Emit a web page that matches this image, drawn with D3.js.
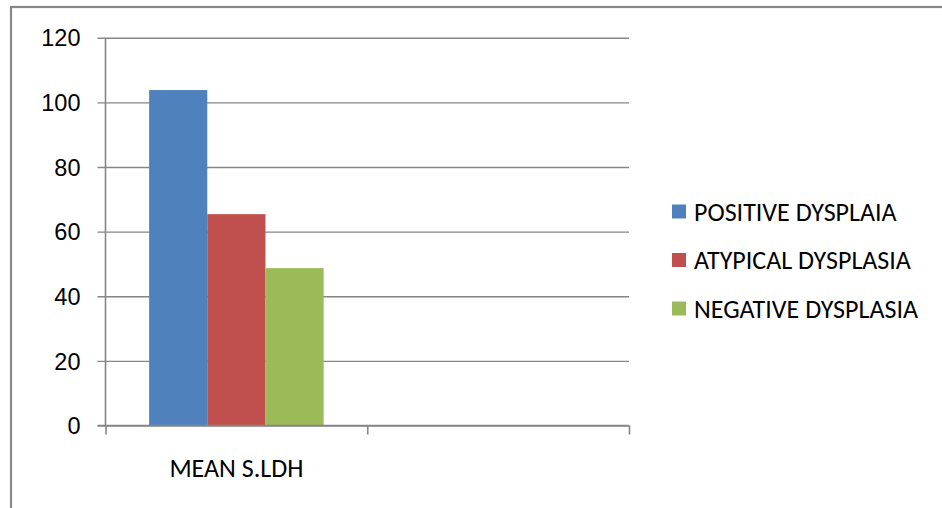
<!DOCTYPE html>
<html>
<head>
<meta charset="utf-8">
<script src="https://cdn.jsdelivr.net/npm/d3@7"></script>
<style>
  body { margin: 0; background: #fff; }
  svg { display: block; font-family: Carlito, Calibri, Lato, "Open Sans", sans-serif; }
</style>
</head>
<body>
<svg></svg>
<script>
const width = 942;
const height = 508;

// DATA
const categories = ['MEAN S.LDH', ''];
const seriesNames = ['POSITIVE DYSPLAIA', 'ATYPICAL DYSPLASIA', 'NEGATIVE DYSPLASIA'];
const seriesColors = ['#4f81bd', '#c0504d', '#9bbb59'];
const seriesValues = [
  [103.8, null],
  [65.4, null],
  [48.7, null]
];
const yTicks = [0, 20, 40, 60, 80, 100, 120];

const plot = { left: 105.5, right: 629, top: 37.7, bottom: 425.5 };
const gridColor = '#868686';

const svg = d3.select('svg')
    .attr('width', width)
    .attr('height', height);

// outer chart border (runs off the right and bottom of the picture)
svg.append('rect')
    .attr('x', 11)
    .attr('y', 7)
    .attr('width', width + 20)
    .attr('height', height + 20)
    .attr('fill', 'none')
    .attr('stroke', '#888')
    .attr('stroke-width', 2.2);

// SCALES
const xScale = d3.scaleBand()
    .domain(d3.range(categories.length))
    .range([plot.left, plot.right]);
const xInner = d3.scaleBand()
    .domain(d3.range(seriesNames.length))
    .range([0, xScale.bandwidth()])
    .paddingOuter(0.75)
    .paddingInner(0);
const yScale = d3.scaleLinear()
    .domain([0, 120])
    .range([plot.bottom, plot.top]);

// GRID + Y AXIS
const yAxis = d3.axisLeft(yScale)
    .tickValues(yTicks)
    .tickSize(-(plot.right - plot.left))
    .tickSizeOuter(0)
    .tickPadding(25);

const yg = svg.append('g')
    .attr('transform', `translate(${plot.left}, 0)`)
    .call(yAxis);
yg.select('.domain').remove();
yg.selectAll('.tick line')
    .attr('x1', -8)
    .attr('stroke', gridColor)
    .attr('stroke-width', 1.4);
yg.selectAll('.tick text')
    .attr('fill', '#000')
    .style('font-size', '23.5px')
    .attr('dy', '0.35em');

svg.append('line')
    .attr('x1', plot.left).attr('x2', plot.left)
    .attr('y1', plot.top).attr('y2', plot.bottom)
    .attr('stroke', gridColor)
    .attr('stroke-width', 1.6);

// BARS
const groups = svg.selectAll('g.series')
    .data(seriesValues)
    .enter()
    .append('g')
        .attr('class', 'series')
        .attr('fill', (d, i) => seriesColors[i]);

groups.selectAll('rect')
    .data((d, i) => d.map((v, c) => ({ v, c, s: i })).filter(d => d.v !== null))
    .enter()
    .append('rect')
        .attr('x', d => xScale(d.c) + xInner(d.s))
        .attr('width', xInner.bandwidth())
        .attr('y', d => yScale(d.v))
        .attr('height', d => yScale(0) - yScale(d.v));

// X AXIS
const xAxis = d3.axisBottom(d3.scaleLinear().domain([0, categories.length]).range([plot.left, plot.right]))
    .tickValues(d3.range(categories.length + 1))
    .tickSize(9)
    .tickSizeOuter(0)
    .tickFormat('');

const xg = svg.append('g')
    .attr('transform', `translate(0, ${plot.bottom})`)
    .call(xAxis);
xg.select('.domain')
    .attr('d', `M${plot.left - 8},0H${plot.right}`)
    .attr('stroke', gridColor)
    .attr('stroke-width', 1.6);
xg.selectAll('.tick line')
    .attr('stroke', gridColor)
    .attr('stroke-width', 1.6);

svg.selectAll('text.cat')
    .data(categories)
    .enter()
    .append('text')
        .attr('class', 'cat')
        .attr('x', (d, i) => xScale(i) + xScale.bandwidth() / 2)
        .attr('y', 477)
        .attr('text-anchor', 'middle')
        .style('font-size', '26px')
        .text(d => d);

// LEGEND
const legend = svg.selectAll('g.legend')
    .data(seriesNames)
    .enter()
    .append('g')
        .attr('class', 'legend')
        .attr('transform', (d, i) => `translate(672, ${211.5 + i * 48.5})`);

legend.append('rect')
    .attr('x', 0)
    .attr('y', -7)
    .attr('width', 14)
    .attr('height', 14)
    .attr('fill', (d, i) => seriesColors[i]);

legend.append('text')
    .attr('x', 22)
    .attr('dy', '0.35em')
    .style('font-size', '26px')
    .text(d => d);
</script>
</body>
</html>
